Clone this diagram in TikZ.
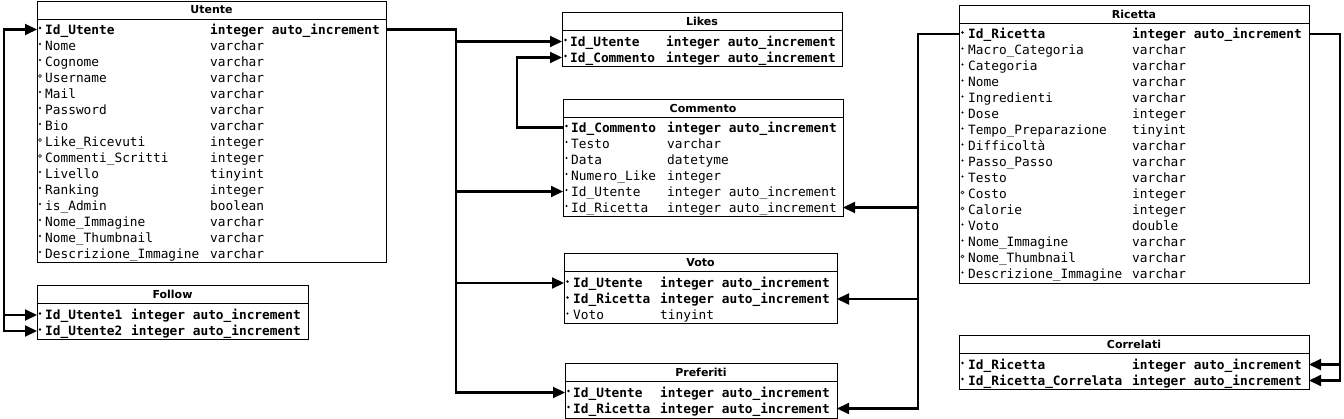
\documentclass[tikz,border=0pt]{standalone}
\usepackage{fontspec}
\usepackage{tikz}
\newfontfamily\dbmono{DejaVu Sans Mono}
\newfontfamily\dbsans{DejaVu Sans}
\usetikzlibrary{arrows.meta}
\usetikzlibrary{positioning}

\tikzset{
  tbl/.style={draw, line width=0.9pt, anchor=north west, inner sep=0pt, outer sep=0pt,
    path picture={\draw[line width=0.9pt] ([yshift=-18.5pt]path picture bounding box.north west) -- ([yshift=-18.5pt]path picture bounding box.north east);}},
  tbltitle/.style={font=\dbsans\bfseries\fontsize{11}{13}\selectfont, inner sep=0pt},
  field/.style={anchor=west, inner sep=0pt, text height=9.3pt, text depth=0pt, font=\dbmono\fontsize{12.8}{14}\selectfont},
  pkfield/.style={field, font=\dbmono\bfseries\fontsize{12.8}{14}\selectfont},
  nullfield/.style={field},
  field-mark/.style={circle, fill, inner sep=0pt, minimum size=2.2pt},
  pkfield-mark/.style={field-mark, minimum size=2.8pt},
  nullfield-mark/.style={circle, draw, line width=0.5pt, inner sep=0pt, minimum size=3pt},
  link/.style={line width=2.1pt},
  fk/.style={link, -{Triangle[length=12pt,width=11pt]}},
  fk2/.style={link, {Triangle[length=12pt,width=11pt]}-{Triangle[length=12pt,width=11pt]}},
}

\begin{document}
\begin{tikzpicture}[x=1pt, y=-1pt]
\path[fill=white, use as bounding box] (0,0) rectangle (1344,419);

% tables
\node[tbl, minimum width=349pt, minimum height=261pt] (utente) at (37,1) {};
\node[tbl, minimum width=271pt, minimum height=54pt] (follow) at (37,285) {};
\node[tbl, minimum width=280pt, minimum height=54pt] (likes) at (562,12) {};
\node[tbl, minimum width=280pt, minimum height=117pt] (commento) at (563,99) {};
\node[tbl, minimum width=273pt, minimum height=70pt] (voto) at (564,253) {};
\node[tbl, minimum width=272pt, minimum height=55pt] (preferiti) at (565,363) {};
\node[tbl, minimum width=350pt, minimum height=278pt] (ricetta) at (959,5) {};
\node[tbl, minimum width=350pt, minimum height=54pt] (correlati) at (959,335) {};

\node[tbltitle] (utente-title) at ([yshift=-9pt]utente.north) {Utente};
\node[tbltitle] (follow-title) at ([yshift=-9pt]follow.north) {Follow};
\node[tbltitle] (likes-title) at ([yshift=-9.5pt]likes.north) {Likes};
\node[tbltitle] (commento-title) at ([yshift=-9pt]commento.north) {Commento};
\node[tbltitle] (voto-title) at ([yshift=-9.5pt]voto.north) {Voto};
\node[tbltitle] (preferiti-title) at ([yshift=-9.5pt]preferiti.north) {Preferiti};
\node[tbltitle] (ricetta-title) at ([yshift=-9pt]ricetta.north) {Ricetta};
\node[tbltitle] (correlati-title) at ([yshift=-9pt]correlati.north) {Correlati};

% fields
\foreach \fname/\ftype/\fkind [count=\i] in {Id\_Utente/integer auto\_increment/pkfield,
    Nome/varchar/field, Cognome/varchar/field, Username/varchar/nullfield, Mail/varchar/field,
    Password/varchar/field, Bio/varchar/field, Like\_Ricevuti/integer/nullfield,
    Commenti\_Scritti/integer/nullfield, Livello/tinyint/field, Ranking/integer/field,
    is\_Admin/boolean/field, Nome\_Immagine/varchar/field, Nome\_Thumbnail/varchar/field,
    Descrizione\_Immagine/varchar/field}{
  \node[\fkind] (ut-n\i) at (45,13.5+16*\i) {\fname};
  \node[\fkind] (ut-t\i) at (210,13.5+16*\i) {\ftype};
  \node[\fkind-mark] (ut-m\i) at (40,12+16*\i) {};
}
\foreach \fname/\ftype/\fkind [count=\i] in {Id\_Utente1/integer auto\_increment/pkfield,
    Id\_Utente2/integer auto\_increment/pkfield}{
  \node[\fkind] (fl-n\i) at (45,299+16*\i) {\fname};
  \node[\fkind] (fl-t\i) at (131,299+16*\i) {\ftype};
  \node[\fkind-mark] (fl-m\i) at (40,297.5+16*\i) {};
}
\foreach \fname/\ftype/\fkind [count=\i] in {Id\_Utente/integer auto\_increment/pkfield,
    Id\_Commento/integer auto\_increment/pkfield}{
  \node[\fkind] (lk-n\i) at (570,25.5+16*\i) {\fname};
  \node[\fkind] (lk-t\i) at (666,25.5+16*\i) {\ftype};
  \node[\fkind-mark] (lk-m\i) at (565.5,24+16*\i) {};
}
\foreach \fname/\ftype/\fkind [count=\i] in {Id\_Commento/integer auto\_increment/pkfield,
    Testo/varchar/field, Data/datetyme/field, Numero\_Like/integer/field,
    Id\_Utente/integer auto\_increment/field, Id\_Ricetta/integer auto\_increment/field}{
  \node[\fkind] (cm-n\i) at (571,111.5+16*\i) {\fname};
  \node[\fkind] (cm-t\i) at (667,111.5+16*\i) {\ftype};
  \node[\fkind-mark] (cm-m\i) at (566.5,110+16*\i) {};
}
\foreach \fname/\ftype/\fkind [count=\i] in {Id\_Utente/integer auto\_increment/pkfield,
    Id\_Ricetta/integer auto\_increment/pkfield, Voto/tinyint/field}{
  \node[\fkind] (vt-n\i) at (573,267+16*\i) {\fname};
  \node[\fkind] (vt-t\i) at (660,267+16*\i) {\ftype};
  \node[\fkind-mark] (vt-m\i) at (567.5,265.5+16*\i) {};
}
\foreach \fname/\ftype/\fkind [count=\i] in {Id\_Utente/integer auto\_increment/pkfield,
    Id\_Ricetta/integer auto\_increment/pkfield}{
  \node[\fkind] (pf-n\i) at (573,376.5+16*\i) {\fname};
  \node[\fkind] (pf-t\i) at (660,376.5+16*\i) {\ftype};
  \node[\fkind-mark] (pf-m\i) at (568.5,375+16*\i) {};
}
\foreach \fname/\ftype/\fkind [count=\i] in {Id\_Ricetta/integer auto\_increment/pkfield,
    Macro\_Categoria/varchar/field, Categoria/varchar/field, Nome/varchar/field,
    Ingredienti/varchar/field, Dose/integer/field, Tempo\_Preparazione/tinyint/field,
    Difficoltà/varchar/field, Passo\_Passo/varchar/field, Testo/varchar/field,
    Costo/integer/nullfield, Calorie/integer/nullfield, Voto/double/field,
    Nome\_Immagine/varchar/field, Nome\_Thumbnail/varchar/nullfield,
    Descrizione\_Immagine/varchar/field}{
  \node[\fkind] (rc-n\i) at (968,18+16*\i) {\fname};
  \node[\fkind] (rc-t\i) at (1132,18+16*\i) {\ftype};
  \node[\fkind-mark] (rc-m\i) at (962.5,16.5+16*\i) {};
}
\foreach \fname/\ftype/\fkind [count=\i] in {Id\_Ricetta/integer auto\_increment/pkfield,
    Id\_Ricetta\_Correlata/integer auto\_increment/pkfield}{
  \node[\fkind] (cr-n\i) at (968,348.5+16*\i) {\fname};
  \node[\fkind] (cr-t\i) at (1132,348.5+16*\i) {\ftype};
  \node[\fkind-mark] (cr-m\i) at (962.5,347+16*\i) {};
}

% links
\coordinate (ubus) at (456,0);
\coordinate (fbus) at (4,0);
\coordinate (cbus) at (517,0);
\coordinate (rbus) at (918,0);
\coordinate (kbus) at (1340,0);

\draw[fk] (utente.east |- ut-n1) -| (ubus |- pf-n1) -- (preferiti.west |- pf-n1);
\draw[fk] (ubus |- lk-n1) -- (likes.west |- lk-n1);
\draw[fk] (ubus |- cm-n5) -- (commento.west |- cm-n5);
\draw[fk] (ubus |- vt-n1) -- (voto.west |- vt-n1);

\draw[fk2] (follow.west |- fl-n2) -| (fbus |- ut-n1) -- (utente.west |- ut-n1);
\draw[fk] (fbus |- fl-n1) -- (follow.west |- fl-n1);

\draw[fk] (commento.west |- cm-n1) -| (cbus |- lk-n2) -- (likes.west |- lk-n2);

\draw[fk] (ricetta.west |- rc-n1) -| (rbus |- pf-n2) -- (preferiti.east |- pf-n2);
\draw[fk] (rbus |- cm-n6) -- (commento.east |- cm-n6);
\draw[fk] (rbus |- vt-n2) -- (voto.east |- vt-n2);

\draw[fk] (ricetta.east |- rc-n1) -| (kbus |- cr-n2) -- (correlati.east |- cr-n2);
\draw[fk] (kbus |- cr-n1) -- (correlati.east |- cr-n1);
\end{tikzpicture}
\end{document}
